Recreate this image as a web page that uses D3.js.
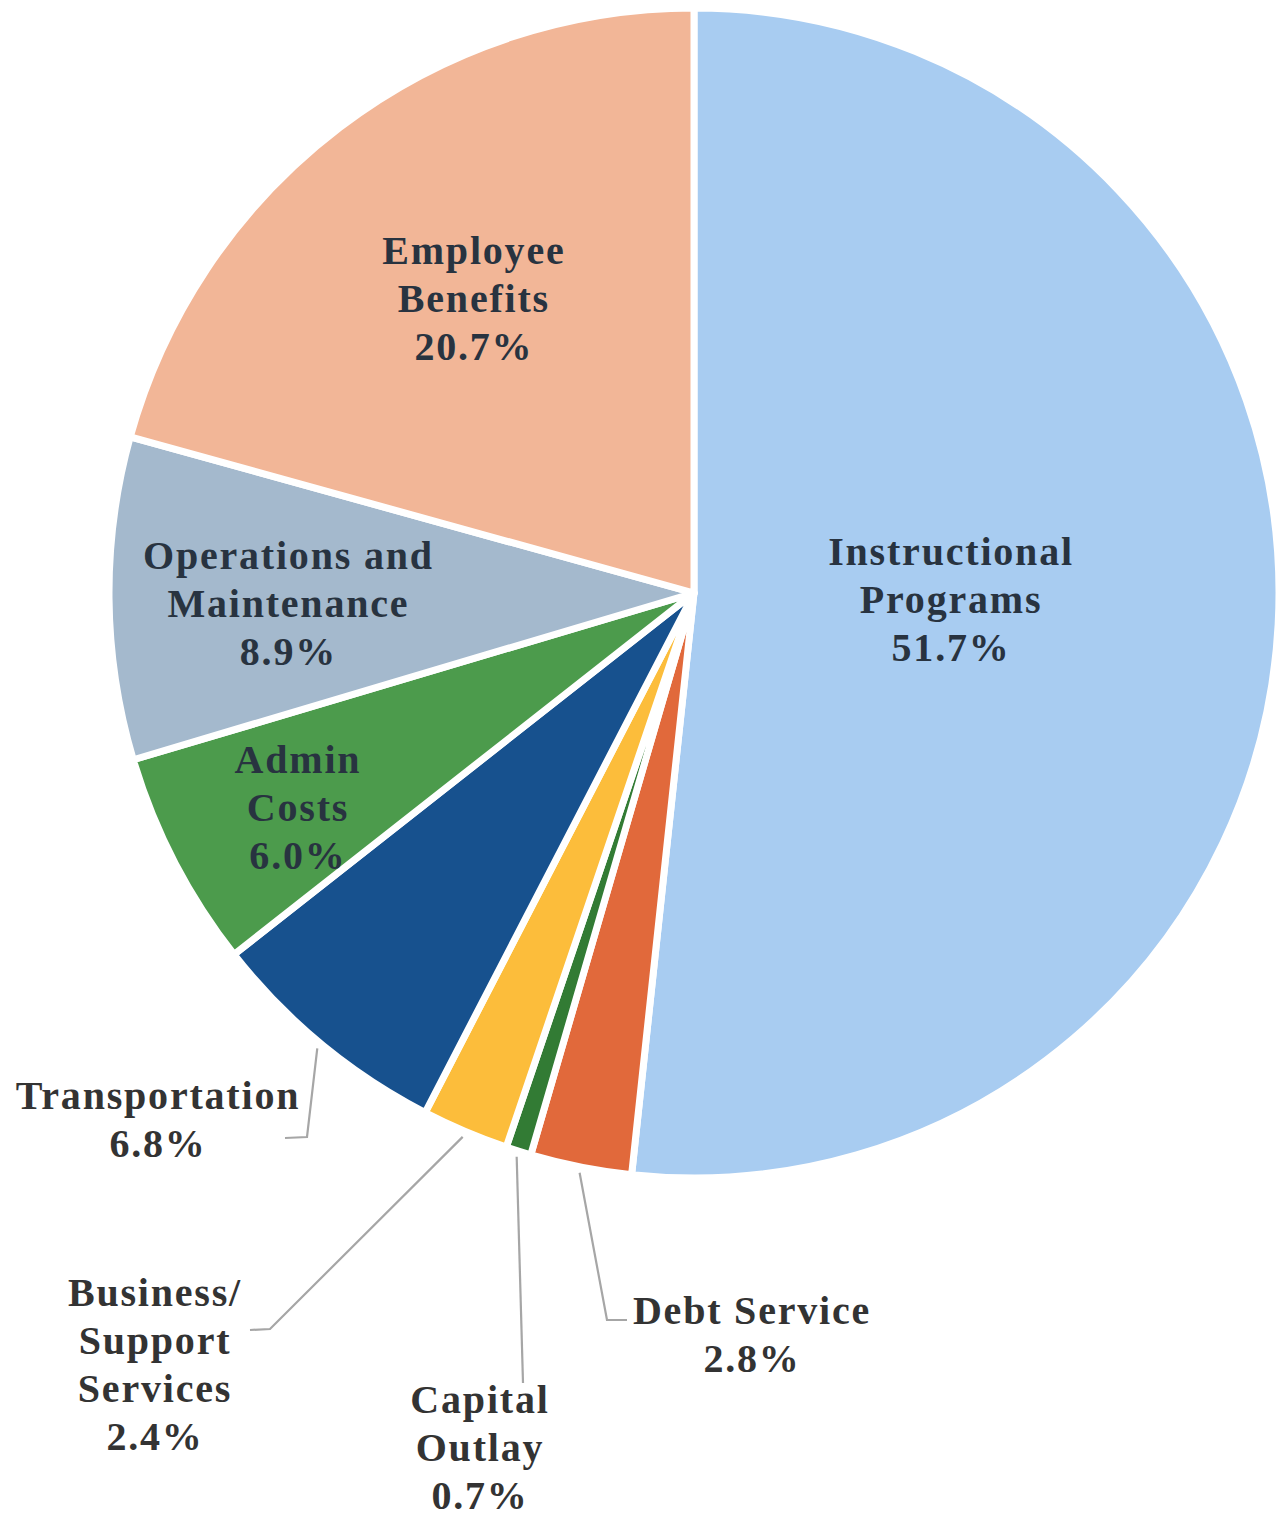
<!DOCTYPE html>
<html>
<head>
<meta charset="utf-8">
<script src="https://cdn.jsdelivr.net/npm/d3@7"></script>
<style>
  body { margin: 0; background: #fff; }
  #canva text { font-family: "Liberation Serif", "DejaVu Serif", serif; font-weight: bold; letter-spacing: 1.8px; }
</style>
</head>
<body>
<div id="canva"></div>
<script>
// chart data
const categories = ["Instructional Programs", "Debt Service", "Capital Outlay", "Business/ Support Services",
  "Transportation", "Admin Costs", "Operations and Maintenance", "Employee Benefits"];
const values = [51.7, 2.8, 0.7, 2.4, 6.8, 6.0, 8.9, 20.7];
const labelLines = [
  ["Instructional", "Programs"],
  ["Debt Service"],
  ["Capital", "Outlay"],
  ["Business/", "Support", "Services"],
  ["Transportation"],
  ["Admin", "Costs"],
  ["Operations and", "Maintenance"],
  ["Employee", "Benefits"]
];
const colors = ["#a8ccf1", "#e1693b", "#327b34", "#fcbd3b", "#17518e", "#4c9b4c", "#a4b9cd", "#f2b697"];

const width = 1283;
const height = 1519;
const cx = 694, cy = 593, radius = 585;

// label placement: inside labels sit along the slice middle (radius factor + small shift),
// outside labels get a leader line ending at an elbow and a text anchor
const inside = {
  0: { r: 0.44, dx: 0, dy: -8 },
  5: { r: 0.77, dx: 4, dy: 7 },
  6: { r: 0.69, dx: -2, dy: 6 },
  7: { r: 0.63, dx: 3, dy: -2 }
};
const outside = {
  1: { elbow: [607, 1320], end: [627, 1320], text: [752, 1310] },
  2: { elbow: [523, 1383], end: [523, 1383], text: [480, 1399] },
  3: { elbow: [270, 1329], end: [250, 1330], text: [155, 1292] },
  4: { elbow: [307, 1137], end: [285, 1138], text: [158, 1095] }
};
const lineGap = 48;

const svg = d3.select("#canva").append("svg")
  .attr("width", width)
  .attr("height", height);

const g = svg.append("g").attr("transform", `translate(${cx},${cy})`);

const pie = d3.pie().sort(null).value(d => d)(values);
const arc = d3.arc().innerRadius(0).outerRadius(radius);

g.selectAll("path.slice").data(pie).enter().append("path")
  .attr("class", "slice")
  .attr("d", arc)
  .style("fill", (d, i) => colors[i])
  .style("stroke", "#fff")
  .style("stroke-width", 7)
  .style("stroke-linejoin", "round");

pie.forEach((d, i) => {
  const mid = (d.startAngle + d.endAngle) / 2;
  const lines = labelLines[i].concat([values[i].toFixed(1) + "%"]);
  let tx, ty, fill;
  if (inside[i] !== undefined) {
    const p = inside[i];
    const r = radius * p.r;
    tx = Math.sin(mid) * r + p.dx;
    ty = -Math.cos(mid) * r + p.dy - (lines.length - 1) * lineGap / 2;
    fill = "#283340";
  } else {
    const o = outside[i];
    const r0 = radius + 6;
    const p0 = [Math.sin(mid) * r0, -Math.cos(mid) * r0];
    const pts = [p0, [o.elbow[0] - cx, o.elbow[1] - cy], [o.end[0] - cx, o.end[1] - cy]];
    g.append("path")
      .attr("d", d3.line()(pts))
      .style("fill", "none")
      .style("stroke", "#a6a6a6")
      .style("stroke-width", 2.2);
    tx = o.text[0] - cx;
    ty = o.text[1] - cy;
    fill = "#333333";
  }
  const t = g.append("text")
    .attr("text-anchor", "middle")
    .style("font-size", "40px")
    .style("fill", fill);
  lines.forEach((s, k) => {
    t.append("tspan")
      .attr("x", tx)
      .attr("y", ty + k * lineGap)
      .attr("dy", "0.35em")
      .text(s);
  });
});
</script>
</body>
</html>
